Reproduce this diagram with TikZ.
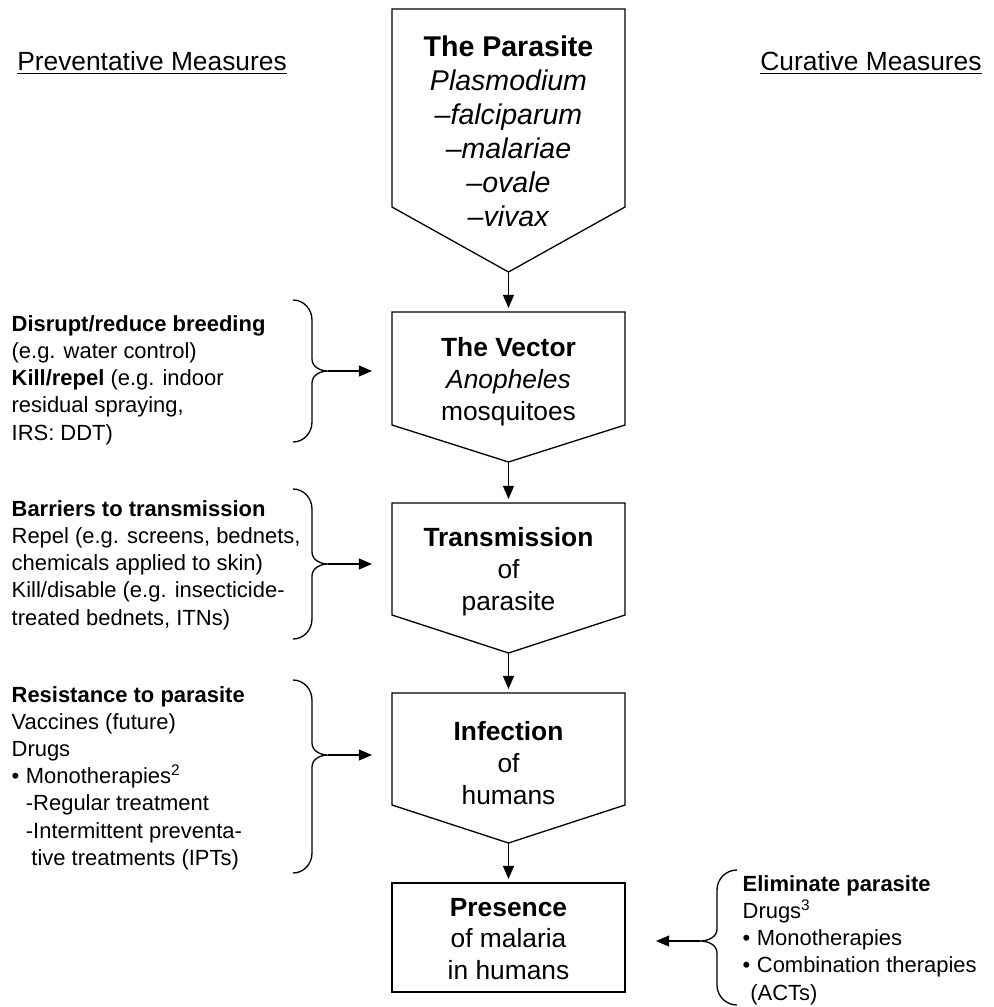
\documentclass[tikz,border=0pt]{standalone}
\usepackage{fontspec}
\setmainfont{Liberation Sans}
\usepackage{tikz}
\usetikzlibrary{arrows.meta}

\begin{document}
\begin{tikzpicture}[x=0.016cm,y=-0.016cm,line width=0.6pt,
    boxtext/.style={align=center,font=\fontsize{12}{14.5}\selectfont},
    note/.style={anchor=west,align=left,inner sep=0pt,font=\fontsize{10}{12.4}\selectfont},
    heading/.style={font=\fontsize{12}{14}\selectfont},
    flow/.style={-{Triangle[length=6pt,width=5pt]}}]
        % page frame
        \useasboundingbox (0,0) rectangle (993,1007);

        % edges of the boxes
        \newcommand{\bl}{392}
        \newcommand{\br}{625}
        \newcommand{\bc}{508.5}

        % brace on the left: top, middle, bottom
        \newcommand{\leftcurl}[3]{%
          \draw (293,#1) to[out=0,in=90] (312,#1+20) -- (312,#2-12)
            to[out=-90,in=180] (328,#2) to[out=180,in=90] (312,#2+12)
            -- (312,#3-20) to[out=-90,in=0] (293,#3);}

        % headings
        \node[heading] (prevent) at (152,63) {\underline{Preventative Measures}};
        \node[heading] (cure) at (871,63) {\underline{Curative Measures}};

        % the chain of boxes
        \draw (\bl,9) -- (\br,9) -- (\br,207) -- (\bc,272) coordinate (parasite-tip) -- (\bl,207) -- cycle;
        \draw (\bl,312) -- (\br,312) -- (\br,425) -- (\bc,462) coordinate (vector-tip) -- (\bl,425) -- cycle;
        \draw (\bl,503) -- (\br,503) -- (\br,615) -- (\bc,653) coordinate (transmission-tip) -- (\bl,615) -- cycle;
        \draw (\bl,693) -- (\br,693) -- (\br,805) -- (\bc,843) coordinate (infection-tip) -- (\bl,805) -- cycle;
        \draw (\bl,883) rectangle (\br,992);

        \coordinate (vector-in) at (\bc,308);
        \coordinate (transmission-in) at (\bc,499);
        \coordinate (infection-in) at (\bc,689);
        \coordinate (presence-in) at (\bc,879);

        \node[boxtext,font=\fontsize{13}{15.5}\selectfont] (parasite) at (\bc,131)
          {\textbf{The Parasite}\\\textit{Plasmodium}\\\textit{--falciparum}\\\textit{--malariae}\\\textit{--ovale}\\\textit{--vivax}};
        \node[boxtext] (vector) at (\bc,382) {\textbf{The Vector}\\\textit{Anopheles}\\mosquitoes};
        \node[boxtext] (transmission) at (\bc,572) {\textbf{Transmission}\\of\\parasite};
        \node[boxtext] (infection) at (\bc,763) {\textbf{Infection}\\of\\humans};
        \node[boxtext] (presence) at (\bc,939) {\textbf{Presence}\\of malaria\\in humans};

        % arrows down
        \draw[flow] (parasite-tip) -- (vector-in);
        \draw[flow] (vector-tip) -- (transmission-in);
        \draw[flow] (transmission-tip) -- (infection-in);
        \draw[flow] (infection-tip) -- (presence-in);

        % preventative measures
        \node[note] (breeding) at (11,380)
          {\textbf{Disrupt/reduce breeding}\\(e.g. water control)\\\textbf{Kill/repel} (e.g. indoor\\residual spraying,\\IRS: DDT)};
        \node[note] (barriers) at (11,565)
          {\textbf{Barriers to transmission}\\Repel (e.g. screens, bednets,\\chemicals applied to skin)\\Kill/disable (e.g. insecticide-\\treated bednets, ITNs)};
        \node[note] (resistance) at (11,778)
          {\textbf{Resistance to parasite}\\Vaccines (future)\\Drugs\\\makebox[6.5pt][l]{\textbullet}Monotherapies\textsuperscript{2}\\\hspace*{6.5pt}-Regular treatment\\\hspace*{6.5pt}-Intermittent preventa-\\\hspace*{9pt}tive treatments (IPTs)};

        \leftcurl{300}{371}{442}
        \leftcurl{489}{564}{639}
        \leftcurl{680}{755}{873}

        \coordinate (breeding-cusp) at (328,371);
        \coordinate (barriers-cusp) at (328,564);
        \coordinate (resistance-cusp) at (328,755);
        \coordinate (vector-side) at (372,371);
        \coordinate (transmission-side) at (372,564);
        \coordinate (infection-side) at (372,755);

        \draw[flow] (breeding-cusp) -- (vector-side);
        \draw[flow] (barriers-cusp) -- (transmission-side);
        \draw[flow] (resistance-cusp) -- (infection-side);

        % curative measures
        \node[note] (eliminate) at (742,940)
          {\textbf{Eliminate parasite}\\Drugs\textsuperscript{3}\\\makebox[6.5pt][l]{\textbullet}Monotherapies\\\makebox[6.5pt][l]{\textbullet}Combination therapies\\\hspace*{3.5pt}(ACTs)};

        \draw (737,870) to[out=180,in=90] (717,890) -- (717,929)
          to[out=-90,in=0] (700,941) to[out=0,in=90] (717,953)
          -- (717,985) to[out=-90,in=180] (737,1005);
        \coordinate (eliminate-cusp) at (700,941);
        \coordinate (presence-side) at (656,941);
        \draw[flow] (eliminate-cusp) -- (presence-side);
    \end{tikzpicture}
\end{document}
